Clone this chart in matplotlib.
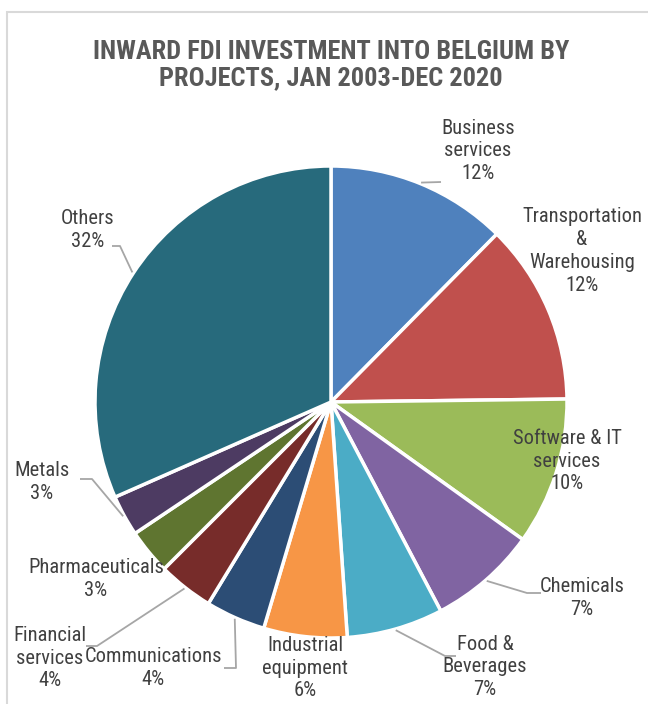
import matplotlib
matplotlib.use("Agg")
import matplotlib.pyplot as plt
from matplotlib import font_manager
from matplotlib.patches import Rectangle
import numpy as np

# Chart data
sectors = ["Business\nservices", "Transportation\n&\nWarehousing", "Software & IT\nservices",
           "Chemicals", "Food &\nBeverages", "Industrial\nequipment", "Communications",
           "Financial\nservices", "Pharmaceuticals", "Metals", "Others"]
shares = [12.4, 12.4, 10.1, 7.4, 6.6, 5.7, 4.1, 3.8, 3.1, 2.8, 31.6]
colors = ["#4F81BD", "#C0504D", "#9BBB59", "#8064A2", "#4BACC6", "#F79646",
          "#2C4D75", "#772C2A", "#5F7530", "#4D3B62", "#276A7C"]

title = "INWARD FDI INVESTMENT INTO BELGIUM BY\nPROJECTS, JAN 2003-DEC 2020"

# Pick a narrow font that has both regular and bold faces
weights = {}
for f in font_manager.fontManager.ttflist:
    if "Narrow" in f.name or "Condensed" in f.name:
        w = f.weight if isinstance(f.weight, int) else 400
        weights.setdefault(f.name, set()).add(w)
preferred = ["Liberation Sans Narrow", "Arial Narrow", "Roboto Condensed", "Open Sans Condensed"]
candidates = [n for n in preferred if n in weights] + sorted(weights)
family = None
for n in candidates:
    if any(w >= 600 for w in weights[n]) and any(w in (400, 500) for w in weights[n]):
        family = n
        break
if family is None and candidates:
    family = candidates[0]

if family:
    plt.rcParams['font.family'] = [family, 'DejaVu Sans']
    labelSize, titleSize = 14.8, 19
else:
    plt.rcParams['font.family'] = ['Liberation Sans', 'DejaVu Sans']
    labelSize, titleSize = 12.5, 15.5

# Layout (pixels from top-left of the 648x704 image)
W, H = 648, 704
CX, CY, R = 331, 402, 236
labelPos = [(478, 151), (582, 251), (567, 461), (582, 598), (485, 667), (305, 668),
            (153, 668), (50, 658), (96, 579), (42, 482), (88, 230)]
# leader line bends (elbow, end) for labels that have one
leaders = {0: [(441, 182)], 3: [(527, 593), (541, 593)], 4: [(445, 656), (456, 656)],
           6: [(236, 668), (224, 668)], 7: [(97, 646), (86, 646)],
           9: [(92, 479), (80, 479)], 10: [(120, 246), (112, 246)]}


def toData(p):
    return ((p[0] - CX) / R, (CY - p[1]) / R)


fig = plt.figure(figsize=(W / 100, H / 100), dpi=100)
ax = fig.add_axes([0, 0, 1, 1])

wedges, _ = ax.pie(shares, colors=colors, startangle=90, counterclock=False, radius=1,
                   wedgeprops=dict(edgecolor="white", linewidth=2.5))

# pie() sets its own limits, so fix them afterwards
ax.set_xlim(-CX / R, (W - CX) / R)
ax.set_ylim((CY - H) / R, CY / R)
ax.set_aspect('equal')
ax.axis('off')

for i, w in enumerate(wedges):
    text = sectors[i] + "\n" + f"{shares[i]:.0f}%"
    x, y = toData(labelPos[i])
    ax.text(x, y, text, ha="center", va="center", fontsize=labelSize, color="#404040",
            linespacing=1.25)
    if i in leaders:
        mid = np.deg2rad((w.theta1 + w.theta2) / 2)
        pts = [(np.cos(mid) * 1.005, np.sin(mid) * 1.005)] + [toData(p) for p in leaders[i]]
        xs, ys = zip(*pts)
        ax.plot(xs, ys, color="#A6A6A6", linewidth=1.3, solid_capstyle="butt")

fig.text(331 / W, 1 - 65 / H, title, ha="center", va="center", fontsize=titleSize,
         fontweight="bold", color="#595959", linespacing=1.15)

# Chart area border
fig.patches.append(Rectangle((7 / W, -0.1), 1.2, 1 - 12 / H + 0.1, transform=fig.transFigure,
                             fill=False, edgecolor="#D9D9D9", linewidth=1.5))

fig.savefig("out.png", dpi=100)
